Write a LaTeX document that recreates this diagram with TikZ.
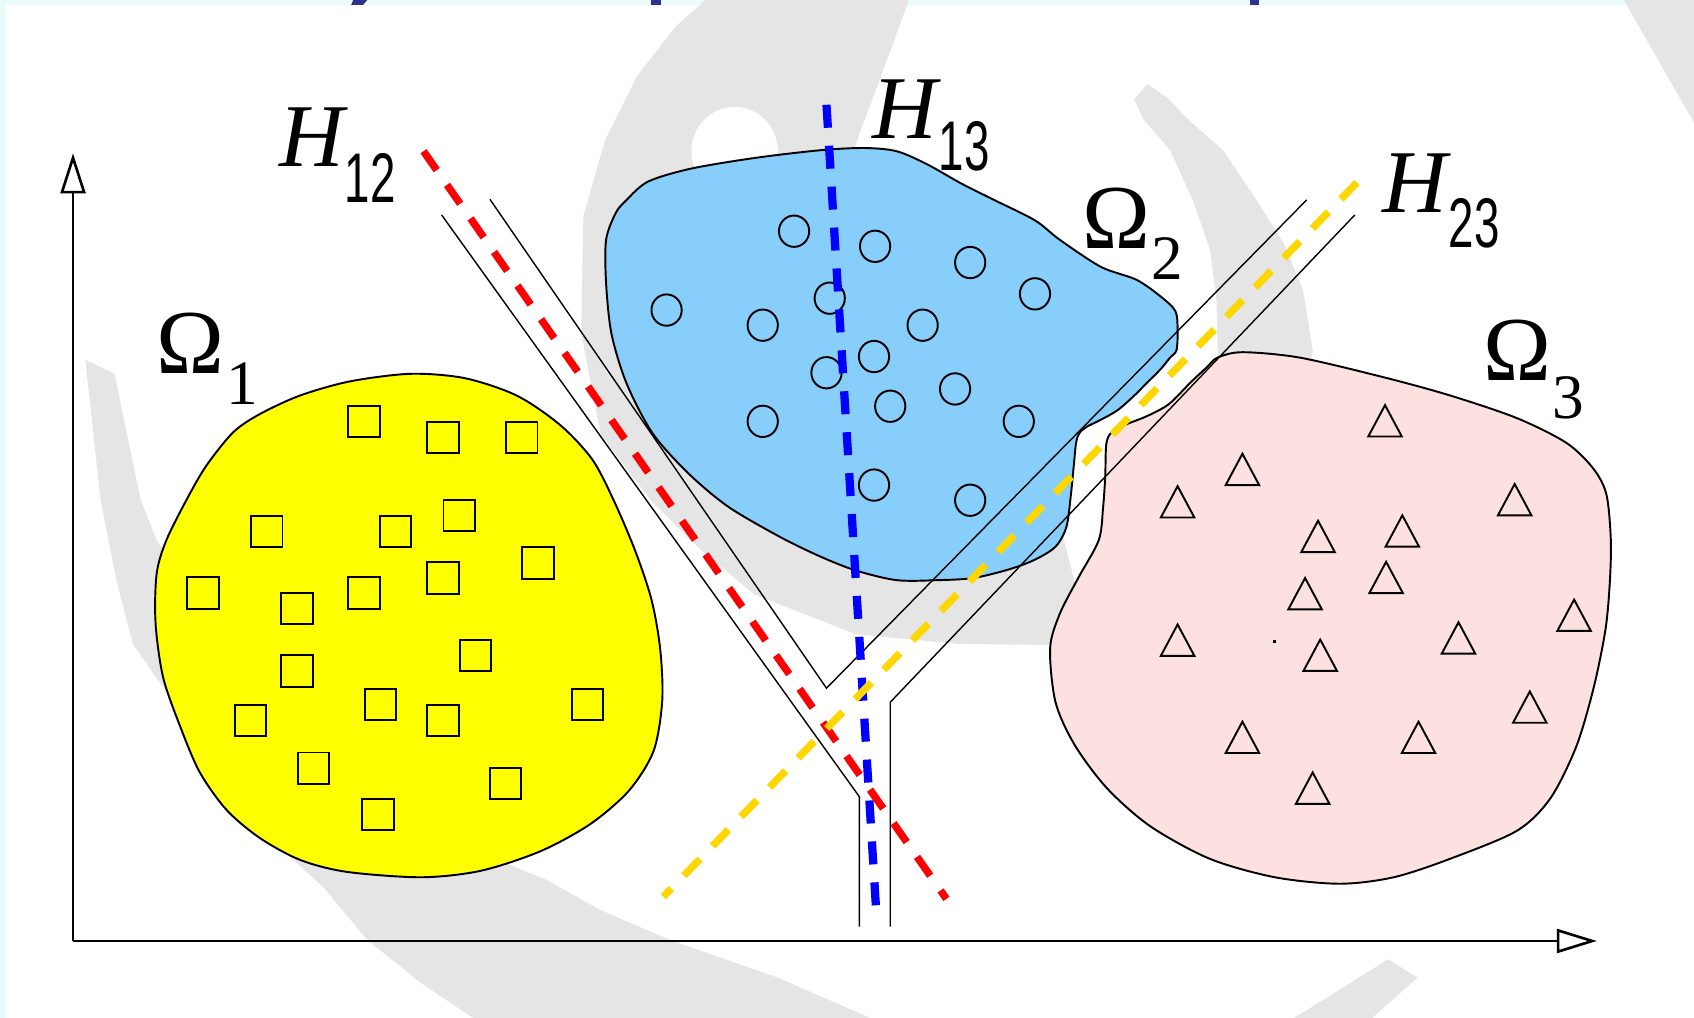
\documentclass[tikz,border=0pt]{standalone}
\usepackage{fontspec}
\setmainfont{Liberation Serif}
\newfontfamily\sansdig{Liberation Sans}
\usepackage{graphicx}
\usetikzlibrary{arrows.meta}
\definecolor{bgcyan}{HTML}{E9FBFB}
\definecolor{wmgray}{HTML}{E5E5E5}
\definecolor{blobyellow}{HTML}{FFFF00}
\definecolor{blobblue}{HTML}{88CEFB}
\definecolor{blobpink}{HTML}{FDE0E0}
\definecolor{hypred}{HTML}{FF0000}
\definecolor{hypblue}{HTML}{0000FF}
\definecolor{hypgold}{HTML}{FFD700}
\definecolor{titleblue}{HTML}{2E3192}
\begin{document}
\begin{tikzpicture}[x=0.0216cm, y=-0.0216cm,
  blob/.style={draw=black, line width=1.1pt},
  mk/.style={draw=black, line width=1.1pt},
  margin/.style={draw=black, line width=0.8pt},
  hyp/.style={line width=4.2pt, dash pattern=on 0.46cm off 0.36cm},
  axis/.style={draw=black, line width=1.5pt},
  lbl/.style={anchor=base west, inner sep=0pt, outer sep=0pt},
  hfont/.style={font=\fontsize{51}{51}\selectfont\itshape},
  ofont/.style={font=\fontsize{52}{52}\selectfont},
  hsub/.style={lbl, font=\sansdig\fontsize{40}{40}\selectfont},
  osub/.style={lbl, font=\fontsize{36}{36}\selectfont},
]
\useasboundingbox (0,0) rectangle (1568,942);
% frame
\fill[bgcyan] (0,0) rectangle (1568,942);
\fill[white] (5.5,4.6) rectangle (1568,942);
% title fragments
\fill[titleblue] (327,0) -- (340,0) -- (336,4.6) -- (325,4.6) -- cycle;
\fill[titleblue] (603,0) rectangle (612,4.6);
\fill[titleblue] (1157,0) rectangle (1165,4.6);
% watermark
\fill[wmgray] (655,-2) -- (842,-2) -- (812,80) -- (795,125) -- (790,140) -- (860,300) -- (960,450) -- (985,500)
  -- (1000,560) -- (1005,598) -- (972,597) -- (887,596) -- (792,587) -- (698,550) -- (650,510) -- (603,464)
  -- (556,402) -- (538,308) -- (540,200) -- (560,130) -- (590,70) -- (625,25) -- cycle;
\fill[white] (680,140) ellipse [x radius=40, y radius=41];
\fill[wmgray] (1062,78) -- (1080,90) -- (1100,111) -- (1132,139) -- (1163,185) -- (1188,225) -- (1206,268)
  -- (1215,324) -- (1212,345) -- (1170,380) -- (1127,340) -- (1127,324) -- (1126,278) -- (1120,231)
  -- (1104,185) -- (1083,139) -- (1058,110) -- (1050,92) -- cycle;
\fill[wmgray] (1502,-2) -- (1570,-2) -- (1570,117) -- cycle;
\fill[wmgray] (79,333) -- (106,346) -- (130,462) -- (145,500) -- (250,650) -- (400,760) -- (460,796) -- (505,814)
  -- (555,842) -- (620,870) -- (720,905) -- (812,945) -- (442,945) -- (390,910) -- (340,870) -- (300,822)
  -- (262,787) -- (195,700) -- (123,596) -- (108,538) -- (93,462) -- cycle;
\fill[wmgray] (1285,888) -- (1312,905) -- (1268,944) -- (1195,944) -- cycle;
% blobs
\path[blob, fill=blobyellow] plot[smooth cycle, tension=0.5] coordinates {(144,577) (145,531) (154,500) (173,462) (191,431) (216,400) (241,383) (278,366) (324,353) (380,346) (430,350) (478,366) (518,393) (548,425) (568,463) (588,510) (603,555) (611,600) (613,648) (605,695) (582,732) (546,763) (500,788) (445,806) (390,812) (321,807) (278,796) (241,776) (210,750) (185,715) (167,673) (151,627)};
\path[blob, fill=blobblue] plot[smooth cycle, tension=0.5] coordinates {(580,185) (600,168) (640,156) (700,146) (760,139) (800,137) (830,140) (858,152) (890,170) (920,185) (958,204) (981,222) (1019,247) (1052,259) (1075,275) (1088,288) (1090,305) (1089,324) (1083,331) (1074,342) (1061,355) (1049,367) (1034,380) (1018,389) (1006,395) (999,401) (996,410) (994,430) (991,460) (987,488) (977,506) (958,518) (934,527) (901,535) (868,537) (830,537) (792,528) (759,515) (722,497) (674,469) (637,438) (604,401) (580,355) (566,309) (561,262) (561,222) (570,197)};
\path[blob, fill=blobpink] plot[smooth cycle, tension=0.5] coordinates {(1127,331) (1150,326) (1203,331) (1280,349) (1342,366) (1404,387) (1450,410) (1475,434) (1487,458) (1491,500) (1490,540) (1486,583) (1475,637) (1459,691) (1435,739) (1404,769) (1342,795) (1290,812) (1240,818) (1180,812) (1120,795) (1065,765) (1025,730) (995,690) (977,650) (972,600) (981,568) (998,535) (1017,500) (1021,470) (1023,441) (1024,411) (1029,400) (1042,393) (1062,385) (1082,374) (1102,354) (1117,340)};
% markers
\foreach \x/\y in {337/390, 410/405, 483/405, 247/492, 366/492, 425/477, 498/521, 188/549, 275/563, 337/549, 410/535, 440/607, 275/621, 232/667, 352/652, 410/667, 544/652, 290/711, 468/725, 350/754}
  \draw[mk] (\x-14.5,\y-14.5) rectangle (\x+14.5,\y+14.5);
\foreach \x/\y in {735/214, 810/228, 898/243, 958/272, 617/287, 768/276, 706/301, 854/301, 809/330, 765/345, 884/360, 824/376, 706/390, 943/390, 809/449, 898/463}
  \draw[mk] (\x,\y) ellipse [x radius=14, y radius=14.5];
\foreach \x/\y in {1282/390, 1150/435, 1090/465, 1402/463, 1220/497, 1298/492, 1283/535, 1208/550, 1457/570, 1090/593, 1350/591, 1222/607, 1416/655, 1150/683, 1313/683, 1215/730}
  \draw[mk] (\x,\y-15) -- (\x+15.5,\y+14) -- (\x-15.5,\y+14) -- cycle;
\fill[black] (1178,592.5) rectangle (1181,595.5);
% margin lines
\coordinate (a1) at (408.8,199); \coordinate (a2) at (795.4,737.4); \coordinate (a3) at (795.4,857.7);
\coordinate (b1) at (453.5,184.5); \coordinate (v) at (765,637); \coordinate (c1) at (1209.5,185);
\coordinate (d1) at (1254,199); \coordinate (d2) at (824,650); \coordinate (d3) at (824,857.7);
\draw[margin] (a1) -- (a2) -- (a3);
\draw[margin] (b1) -- (v) -- (c1);
\draw[margin] (d1) -- (d2) -- (d3);
% hyperplanes
\coordinate (r1) at (392,140); \coordinate (r2) at (876,832);
\coordinate (u1) at (765,97); \coordinate (u2) at (811,843);
\coordinate (g1) at (1256,169); \coordinate (g2) at (614,830);
\draw[hyp, hypred] (r1) -- (r2);
\draw[hyp, hypblue, line width=4.7pt] (u1) -- (u2);
\draw[hyp, hypgold] (g1) -- (g2);
% axes
\coordinate (o) at (67.6,871); \coordinate (ytip) at (67.6,142); \coordinate (xtip) at (1478,871);
\draw[axis, -{Triangle[open, length=0.8cm, width=0.5cm]}] (o) -- (ytip);
\draw[axis, -{Triangle[open, length=0.8cm, width=0.48cm]}] (o) -- (xtip);
% labels
\node[lbl, hfont] (h12) at (259,154.5) {H};
\node[hsub] (h12s) at (319,187) {\scalebox{0.65}[1]{12}};
\node[lbl, hfont] (h13) at (808,128) {H};
\node[hsub] (h13s) at (869,158) {\scalebox{0.65}[1]{13}};
\node[lbl, hfont] (h23) at (1280,197) {H};
\node[hsub] (h23s) at (1341,229.5) {\scalebox{0.65}[1]{23}};
\node[lbl, ofont] (o1) at (145,346) {Ω};
\node[osub] (o1s) at (210,374) {1};
\node[lbl, ofont] (o2) at (1002,230) {Ω};
\node[osub] (o2s) at (1066,259) {2};
\node[lbl, ofont] (o3) at (1373,352) {Ω};
\node[osub] (o3s) at (1437,387) {3};
\end{tikzpicture}
\end{document}
